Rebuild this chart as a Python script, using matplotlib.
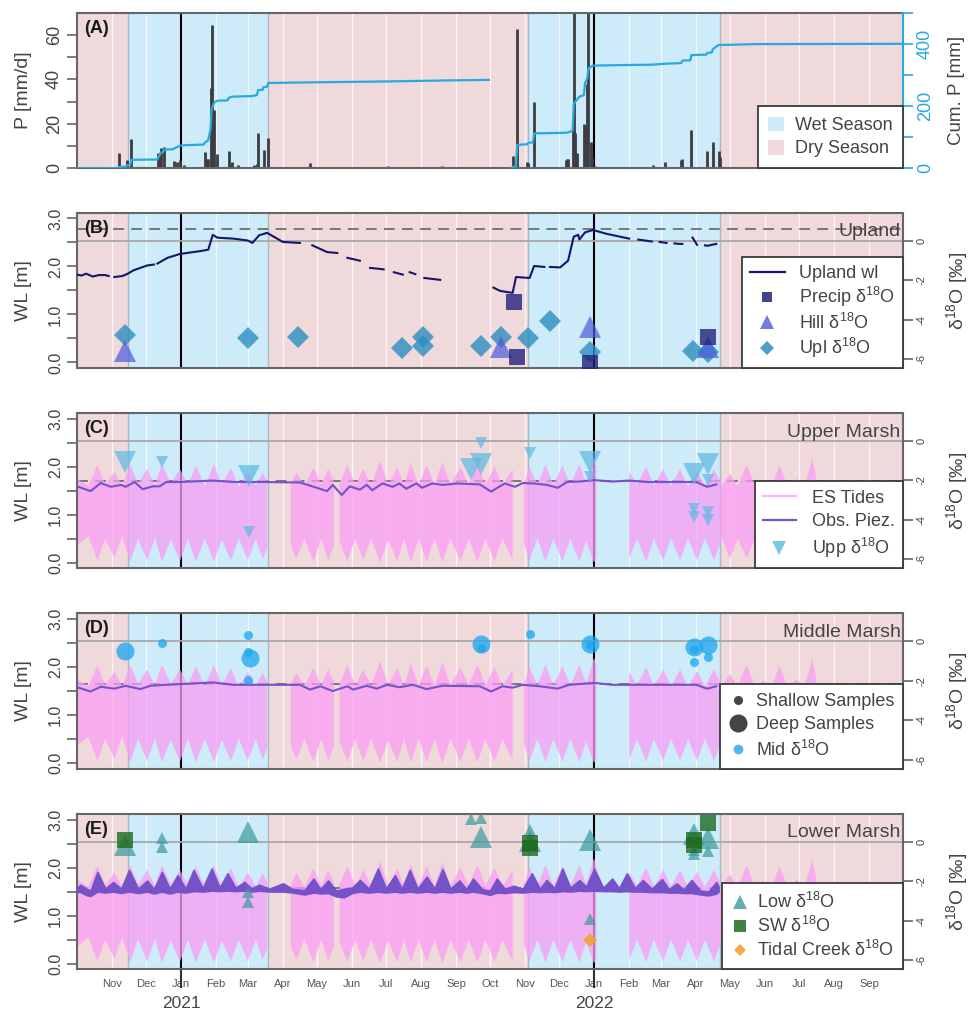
import numpy as np
import pandas as pd
import matplotlib
matplotlib.use("Agg")
import matplotlib.pyplot as plt
from matplotlib.lines import Line2D
from matplotlib.patches import Patch
import matplotlib.transforms as mtransforms

plt.rcParams['font.family'] = ['Liberation Sans', 'DejaVu Sans']
plt.rcParams['mathtext.fontset'] = 'custom'
plt.rcParams['mathtext.rm'] = 'Liberation Sans'
plt.rcParams['mathtext.it'] = 'Liberation Sans:italic'
plt.rcParams['mathtext.bf'] = 'Liberation Sans:bold'

D18 = 'δ$^{18}$O'

# ---------------- data ----------------
t_start, t_end = '2020-10-01', '2022-10-01'
wet_start = ['2020-11-15', '2021-11-04']
wet_end = ['2021-03-19', '2022-04-22']
year_ticks = ['2021-01-01', '2022-01-01']

# daily precipitation [mm/d]
rain_dates = ['2020-11-07', '2020-11-14', '2020-11-18', '2020-12-12', '2020-12-13', '2020-12-14',
              '2020-12-17', '2020-12-26', '2020-12-28', '2020-12-31', '2021-01-04', '2021-01-22',
              '2021-01-24', '2021-01-25', '2021-01-27', '2021-01-28', '2021-01-30', '2021-02-02',
              '2021-02-12', '2021-02-13', '2021-02-15', '2021-02-20', '2021-03-06', '2021-03-09',
              '2021-03-10', '2021-03-15', '2021-03-19', '2021-04-25', '2021-05-17', '2021-07-03',
              '2021-08-20', '2021-10-21', '2021-10-22', '2021-10-25', '2021-11-03', '2021-11-04',
              '2021-11-09', '2021-12-07', '2021-12-08', '2021-12-09', '2021-12-13', '2021-12-14',
              '2021-12-15', '2021-12-17', '2021-12-23', '2021-12-24', '2021-12-25', '2021-12-26',
              '2021-12-27', '2021-12-29', '2021-12-30', '2022-01-02', '2022-02-22', '2022-03-05',
              '2022-03-19', '2022-03-20', '2022-03-28', '2022-04-11', '2022-04-16', '2022-04-21',
              '2022-04-22', '2022-05-25']
rain_mm = [7.0, 3.7, 13.0, 7.0, 5.0, 9.3,
           9.7, 3.3, 2.8, 3.7, 1.5, 7.4,
           4.0, 4.0, 36.0, 64.5, 26.0, 6.3,
           7.8, 2.0, 3.0, 1.5, 1.5, 2.0,
           16.0, 8.3, 13.5, 2.5, 0.5, 0.8,
           0.8, 5.7, 1.2, 62.8, 3.0, 2.5,
           29.6, 3.7, 4.0, 4.0, 17.0, 75.0,
           16.0, 7.0, 20.0, 7.5, 19.0, 38.0,
           75.0, 12.0, 5.0, 1.0, 1.5, 3.0,
           3.7, 4.0, 17.4, 7.6, 12.0, 7.6,
           5.0, 0.5]

# cumulative precipitation per hydrological year [mm]
cum1_dates = ['2020-10-01', '2020-11-06', '2020-11-07', '2020-11-13', '2020-11-14', '2020-11-17',
              '2020-11-18', '2020-12-11', '2020-12-12', '2020-12-13', '2020-12-14', '2020-12-16',
              '2020-12-17', '2020-12-25', '2020-12-26', '2020-12-28', '2020-12-31', '2021-01-04',
              '2021-01-21', '2021-01-22', '2021-01-25', '2021-01-27', '2021-01-28', '2021-01-30',
              '2021-02-02', '2021-02-11', '2021-02-12', '2021-02-15', '2021-03-05', '2021-03-09',
              '2021-03-10', '2021-03-14', '2021-03-15', '2021-03-18', '2021-03-19', '2021-04-25',
              '2021-07-03', '2021-08-20', '2021-09-30']
cum1_mm = [0, 0, 4, 5, 9, 10,
           27, 28, 36, 42, 50, 51,
           60, 61, 64, 67, 72, 74,
           76, 82, 90, 125, 190, 210,
           217, 218, 226, 230, 232, 235,
           251, 252, 261, 262, 274, 276,
           279, 282, 284]
cum2_dates = ['2021-10-20', '2021-10-21', '2021-10-24', '2021-10-25', '2021-11-03', '2021-11-04',
              '2021-11-08', '2021-11-09', '2021-12-08', '2021-12-13', '2021-12-14', '2021-12-15',
              '2021-12-19', '2021-12-23', '2021-12-24', '2021-12-26', '2021-12-27', '2021-12-31',
              '2022-02-22', '2022-03-05', '2022-03-19', '2022-03-20', '2022-03-27', '2022-03-28',
              '2022-04-10', '2022-04-11', '2022-04-15', '2022-04-16', '2022-04-21', '2022-05-25',
              '2022-10-01']
cum2_mm = [0, 4, 6, 75, 77, 82,
           83, 112, 114, 120, 205, 212,
           230, 235, 273, 290, 321, 330,
           333, 336, 338, 346, 347, 364,
           365, 371, 372, 383, 396, 399,
           400]

# upland water level [m] (nan = logger gap)
nan = np.nan
upl_dates = ['2020-10-01', '2020-10-05', '2020-10-09', '2020-10-15', '2020-10-20', '2020-10-26',
             '2020-10-29', '2020-10-31', '2020-11-03', '2020-11-10', '2020-11-15', '2020-11-20',
             '2020-12-02', '2020-12-08', '2020-12-09', '2020-12-11', '2020-12-20', '2020-12-31',
             '2021-01-18', '2021-01-25', '2021-01-29', '2021-02-02', '2021-02-16', '2021-03-01',
             '2021-03-05', '2021-03-11', '2021-03-18', '2021-04-01', '2021-04-16', '2021-04-21',
             '2021-04-27', '2021-05-10', '2021-05-19', '2021-05-23', '2021-05-28', '2021-06-08',
             '2021-06-12', '2021-06-17', '2021-06-29', '2021-07-03', '2021-07-08', '2021-07-16',
             '2021-07-19', '2021-07-22', '2021-07-27', '2021-07-31', '2021-08-04', '2021-08-18',
             '2021-09-01', '2021-10-04', '2021-10-10', '2021-10-21', '2021-10-24', '2021-11-05',
             '2021-11-09', '2021-11-18', '2021-11-20', '2021-11-23', '2021-12-02', '2021-12-09',
             '2021-12-14', '2021-12-18', '2021-12-19', '2021-12-24', '2021-12-31', '2022-01-12',
             '2022-02-01', '2022-02-05', '2022-02-09', '2022-02-21', '2022-02-25', '2022-02-28',
             '2022-03-06', '2022-03-09', '2022-03-13', '2022-03-17', '2022-03-20', '2022-03-23',
             '2022-03-29', '2022-04-02', '2022-04-06', '2022-04-09', '2022-04-11', '2022-04-19']
upl_wl = [1.83, 1.81, 1.85, 1.79, 1.82, 1.82,
          1.80, nan, 1.78, 1.80, 1.85, 1.92,
          2.02, 2.04, nan, 2.06, 2.18, 2.26,
          2.32, 2.35, 2.66, 2.60, 2.58, 2.54,
          2.49, 2.65, 2.70, 2.51, 2.49, nan,
          2.44, 2.30, 2.28, nan, 2.18, 2.12,
          nan, 1.97, 1.94, nan, 1.88, 1.83,
          nan, 1.88, 1.84, nan, 1.76, 1.72,
          nan, 1.56, 1.49, 1.45, 1.78, 1.76,
          2.01, 1.99, nan, 1.99, 1.98, 2.12,
          2.62, 2.66, 2.56, 2.71, 2.76, 2.68,
          2.58, nan, 2.56, 2.52, nan, 2.51,
          2.49, nan, 2.48, 2.47, 2.47, nan,
          2.60, 2.45, nan, 2.44, 2.43, 2.47]

# estuary tide envelope [m] (daily high / low, nan = gap)
tide_dates = ['2020-10-01', '2020-10-11', '2020-10-19', '2020-10-26', '2020-11-03', '2020-11-10',
              '2020-11-17', '2020-11-24', '2020-12-02', '2020-12-09', '2020-12-15', '2020-12-23',
              '2020-12-31', '2021-01-07', '2021-01-14', '2021-01-22', '2021-01-30', '2021-02-06',
              '2021-02-14', '2021-02-21', '2021-03-01', '2021-03-08', '2021-03-14', '2021-03-18',
              '2021-03-19', '2021-04-08', '2021-04-13', '2021-04-20', '2021-04-28', '2021-05-05',
              '2021-05-11', '2021-05-16', '2021-05-18', '2021-05-21', '2021-05-28', '2021-06-04',
              '2021-06-11', '2021-06-18', '2021-06-26', '2021-07-03', '2021-07-11', '2021-07-17',
              '2021-07-23', '2021-07-30', '2021-08-06', '2021-08-13', '2021-08-20', '2021-08-27',
              '2021-09-05', '2021-09-12', '2021-09-20', '2021-09-27', '2021-10-05', '2021-10-12',
              '2021-10-21', '2021-10-25', '2021-10-31', '2021-11-05', '2021-11-12', '2021-11-19',
              '2021-11-26', '2021-12-04', '2021-12-11', '2021-12-19', '2021-12-25', '2022-01-01',
              '2022-01-03', '2022-01-15', '2022-02-01', '2022-02-08', '2022-02-16', '2022-02-23',
              '2022-03-03', '2022-03-10', '2022-03-18', '2022-03-25', '2022-04-02', '2022-04-09',
              '2022-04-17', '2022-04-24', '2022-05-01', '2022-05-08', '2022-05-16', '2022-05-23',
              '2022-05-31', '2022-06-07', '2022-06-14', '2022-06-21', '2022-06-29', '2022-07-06',
              '2022-07-13', '2022-07-16']
tide_hi = [1.75, 1.60, 2.03, 1.62, 1.90, 1.60,
           2.05, 1.65, 1.95, 1.62, 2.05, 1.65,
           1.95, 1.62, 2.02, 1.60, 2.05, 1.62,
           1.98, 1.58, 1.90, 1.60, 1.88, 1.70,
           nan, 1.65, 1.88, 1.60, 1.98, 1.62,
           1.95, 1.70, nan, 1.65, 2.03, 1.62,
           1.95, 1.62, 2.13, 1.62, 1.98, 1.62,
           2.07, 1.62, 2.03, 1.62, 2.10, 1.62,
           2.00, 1.62, 2.05, 1.62, 2.00, 1.60,
           1.95, nan, 1.65, 2.00, 1.62, 2.05,
           1.62, 2.02, 1.62, 2.05, 1.65, 2.20,
           2.00, nan, 1.90, 1.62, 2.00, 1.60,
           1.95, 1.60, 1.95, 1.58, 1.92, 1.60,
           1.95, 1.62, 1.85, 1.60, 2.05, 1.58,
           1.72, 1.60, 2.03, 1.58, 1.75, 1.60,
           2.18, 1.80]
tide_lo = [0.35, 0.55, 0.05, 0.50, 0.10, 0.55,
           0.02, 0.50, 0.05, 0.52, 0.02, 0.48,
           0.03, 0.50, 0.02, 0.50, 0.02, 0.48,
           0.05, 0.50, 0.05, 0.50, 0.08, 0.30,
           nan, 0.35, 0.08, 0.50, 0.03, 0.50,
           0.05, 0.35, nan, 0.45, 0.03, 0.50,
           0.05, 0.50, 0.00, 0.48, 0.03, 0.50,
           0.02, 0.50, 0.02, 0.50, 0.00, 0.50,
           0.03, 0.50, 0.02, 0.50, 0.03, 0.50,
           0.05, nan, 0.40, 0.05, 0.50, 0.02,
           0.50, 0.03, 0.50, 0.02, 0.45, 0.00,
           0.10, nan, 0.08, 0.50, 0.03, 0.50,
           0.05, 0.50, 0.05, 0.50, 0.05, 0.50,
           0.05, 0.50, 0.08, 0.50, 0.10, 0.50,
           0.05, 0.50, 0.08, 0.50, 0.02, 0.50,
           0.00, 0.30]

# piezometer water levels [m]
upp_pz_dates = ['2020-10-01', '2020-10-13', '2020-10-22', '2020-10-31', '2020-11-09', '2020-11-13',
                '2020-11-21', '2020-11-28', '2020-12-07', '2020-12-13', '2020-12-19', '2021-01-01',
                '2021-01-29', '2021-02-16', '2021-03-15', '2021-04-16', '2021-04-27', '2021-05-10',
                '2021-05-15', '2021-05-23', '2021-05-30', '2021-06-08', '2021-06-14', '2021-06-19',
                '2021-06-28', '2021-07-07', '2021-07-13', '2021-07-19', '2021-07-28', '2021-08-02',
                '2021-08-11', '2021-08-20', '2021-09-02', '2021-09-22', '2021-10-02', '2021-10-14',
                '2021-10-23', '2021-10-30', '2021-11-09', '2021-11-20', '2021-11-30', '2021-12-08',
                '2021-12-19', '2022-01-01', '2022-01-17', '2022-02-01', '2022-02-16', '2022-04-01',
                '2022-04-11', '2022-04-19']
upp_pz = [1.59, 1.49, 1.66, 1.58, 1.62, 1.58,
          1.68, 1.53, 1.59, 1.59, 1.68, 1.68,
          1.71, 1.68, 1.68, 1.67, 1.59, 1.49,
          1.62, 1.41, 1.59, 1.52, 1.62, 1.51,
          1.65, 1.58, 1.65, 1.54, 1.65, 1.56,
          1.65, 1.62, 1.65, 1.63, 1.48, 1.65,
          1.58, 1.66, 1.65, 1.62, 1.56, 1.68,
          1.69, 1.72, 1.69, 1.71, 1.68, 1.68,
          1.58, 1.63]
mid_pz_dates = ['2020-10-01', '2020-10-13', '2020-10-22', '2020-11-03', '2020-11-13', '2020-11-26',
                '2020-12-05', '2020-12-19', '2021-01-29', '2021-02-16', '2021-04-16', '2021-04-25',
                '2021-05-04', '2021-05-15', '2021-05-28', '2021-06-02', '2021-06-14', '2021-06-23',
                '2021-07-02', '2021-07-13', '2021-07-25', '2021-08-06', '2021-08-20', '2021-09-22',
                '2021-10-02', '2021-10-12', '2021-10-21', '2021-10-30', '2021-11-14', '2021-11-30',
                '2021-12-10', '2022-01-01', '2022-01-17', '2022-04-01', '2022-04-11', '2022-04-19']
mid_pz = [1.58, 1.49, 1.59, 1.55, 1.61, 1.54,
          1.61, 1.63, 1.68, 1.63, 1.63, 1.53,
          1.60, 1.50, 1.60, 1.53, 1.61, 1.55,
          1.63, 1.58, 1.63, 1.54, 1.61, 1.60,
          1.49, 1.60, 1.57, 1.63, 1.60, 1.55,
          1.63, 1.67, 1.63, 1.63, 1.55, 1.60]
# lower marsh piezometer: daily high / low [m]
low_pz_dates = ['2020-10-01', '2020-10-04', '2020-10-10', '2020-10-13', '2020-10-19', '2020-10-26',
                '2020-11-02', '2020-11-09', '2020-11-16', '2020-11-24', '2020-12-02', '2020-12-08',
                '2020-12-15', '2020-12-22', '2020-12-29', '2021-01-05', '2021-01-12', '2021-01-20',
                '2021-01-28', '2021-02-04', '2021-02-11', '2021-02-18', '2021-02-26', '2021-03-04',
                '2021-03-11', '2021-03-20', '2021-04-01', '2021-04-10', '2021-04-20', '2021-04-28',
                '2021-05-04', '2021-05-11', '2021-05-18', '2021-05-25', '2021-06-01', '2021-06-08',
                '2021-06-16', '2021-06-24', '2021-07-01', '2021-07-09', '2021-07-15', '2021-07-22',
                '2021-07-29', '2021-08-06', '2021-08-13', '2021-08-20', '2021-08-27', '2021-09-04',
                '2021-09-10', '2021-09-16', '2021-09-24', '2021-10-01', '2021-10-07', '2021-10-14',
                '2021-10-22', '2021-10-30', '2021-11-07', '2021-11-14', '2021-11-20', '2021-11-27',
                '2021-12-04', '2021-12-11', '2021-12-19', '2021-12-25', '2022-01-01', '2022-01-09',
                '2022-01-17', '2022-01-23', '2022-01-30', '2022-02-06', '2022-02-13', '2022-02-21',
                '2022-03-02', '2022-03-08', '2022-03-15', '2022-03-21', '2022-03-28', '2022-04-05',
                '2022-04-12', '2022-04-19', '2022-04-21']
low_pz_hi = [1.58, 1.64, 1.55, 1.52, 1.91, 1.56,
             1.70, 1.56, 1.95, 1.56, 1.73, 1.55,
             1.91, 1.56, 1.84, 1.56, 1.95, 1.57,
             1.98, 1.58, 1.88, 1.58, 1.70, 1.57,
             1.64, 1.56, 1.67, 1.55, 1.53, 1.77,
             1.55, 1.73, 1.52, 1.56, 1.58, 1.74,
             1.56, 1.98, 1.56, 1.84, 1.56, 1.95,
             1.56, 1.81, 1.56, 1.97, 1.56, 1.73,
             1.55, 1.77, 1.55, 1.52, 1.77, 1.56,
             1.62, 1.56, 1.88, 1.56, 1.74, 1.57,
             1.98, 1.58, 1.74, 1.60, 1.98, 1.58,
             1.77, 1.57, 1.88, 1.57, 1.74, 1.56,
             1.76, 1.55, 1.67, 1.54, 1.74, 1.52,
             1.50, 1.70, 1.60]
low_pz_lo = [1.50, 1.49, 1.42, 1.41, 1.50, 1.48,
             1.50, 1.47, 1.50, 1.47, 1.50, 1.46,
             1.50, 1.46, 1.50, 1.48, 1.51, 1.50,
             1.52, 1.51, 1.52, 1.51, 1.52, 1.50,
             1.52, 1.50, 1.50, 1.48, 1.44, 1.48,
             1.46, 1.47, 1.40, 1.38, 1.47, 1.50,
             1.48, 1.50, 1.48, 1.50, 1.48, 1.50,
             1.48, 1.50, 1.48, 1.50, 1.48, 1.50,
             1.48, 1.50, 1.47, 1.43, 1.48, 1.47,
             1.49, 1.48, 1.50, 1.49, 1.50, 1.49,
             1.51, 1.50, 1.52, 1.51, 1.52, 1.51,
             1.51, 1.50, 1.51, 1.50, 1.50, 1.49,
             1.49, 1.48, 1.48, 1.47, 1.47, 1.44,
             1.42, 1.46, 1.50]

# ground surface reference [m]
ref_level = {'B': 2.78, 'C': 1.70, 'D': 1.64, 'E': 1.57}

# isotope samples [permil]
precip_iso_dates = ['2021-10-22', '2021-10-25', '2021-12-28', '2022-04-12']
precip_iso = [-3.09, -5.88, -6.22, -4.87]
hill_iso_dates = ['2020-11-12', '2021-10-11', '2021-12-28', '2022-04-12']
hill_iso = [-5.61, -5.37, -4.39, -5.37]
upl_iso_dates = ['2020-11-12', '2021-03-01', '2021-04-14', '2021-07-15', '2021-08-03', '2021-08-03',
                 '2021-09-23', '2021-10-11', '2021-11-04', '2021-11-23', '2021-12-28', '2022-03-29',
                 '2022-04-12']
upl_iso = [-4.78, -4.95, -4.90, -5.46, -4.90, -5.34,
           -5.32, -4.87, -4.95, -4.06, -5.63, -5.58,
           -5.63]

upp_iso_dates = ['2020-11-12', '2020-12-15', '2021-03-02', '2021-03-02', '2021-09-14', '2021-09-23',
                 '2021-09-23', '2021-11-05', '2021-12-28', '2021-12-28', '2022-03-30', '2022-03-30',
                 '2022-03-30', '2022-04-12', '2022-04-12', '2022-04-12', '2022-04-12']
upp_iso = [-1.05, -1.05, -1.77, -4.61, -1.40, -1.18,
           -0.10, -0.61, -1.05, -1.83, -1.70, -3.43,
           -3.85, -1.18, -1.99, -3.60, -4.02]
upp_deep = [1, 0, 1, 0, 1, 1, 0, 0, 1, 0, 1, 0, 0, 1, 0, 0, 0]

mid_iso_dates = ['2020-11-12', '2020-12-15', '2021-03-01', '2021-03-01', '2021-03-01', '2021-03-03',
                 '2021-09-23', '2021-09-23', '2021-11-05', '2021-12-28', '2021-12-28', '2022-03-30',
                 '2022-03-30', '2022-03-30', '2022-04-12', '2022-04-12']
mid_iso = [-0.49, -0.07, 0.34, -0.53, -1.96, -0.83,
           -0.14, -0.36, 0.37, -0.14, -0.20, -0.27,
           -0.41, -1.06, -0.19, -0.78]
mid_deep = [1, 0, 0, 0, 0, 1, 1, 0, 0, 1, 0, 1, 0, 0, 1, 0]

low_iso_dates = ['2020-11-12', '2020-12-15', '2020-12-15', '2021-03-01', '2021-03-01', '2021-03-01',
                 '2021-09-14', '2021-09-23', '2021-09-23', '2021-11-05', '2021-11-05', '2021-12-28',
                 '2021-12-28', '2022-03-30', '2022-03-30', '2022-03-30', '2022-04-12', '2022-04-12']
low_iso = [-0.16, 0.18, -0.25, 0.50, -2.53, -3.04,
           1.14, 1.19, 0.26, 0.60, 0.05, 0.09,
           -3.89, 0.40, -0.42, -0.60, 0.18, -0.45]
low_deep = [1, 0, 0, 1, 0, 0, 0, 0, 1, 0, 1, 1, 0, 1, 0, 0, 1, 0]

sw_iso_dates = ['2020-11-12', '2021-11-05', '2021-11-05', '2022-03-30', '2022-03-30', '2022-04-12']
sw_iso = [0.09, -0.08, -0.33, 0.09, -0.16, 0.94]
creek_iso_dates = ['2021-12-28']
creek_iso = [-5.0]

# ---------------- style ----------------
dry_col = '#F0D9DB'
wet_col = '#CDEBF9'
edge_col = '#A9B8C4'
frame_col = '#666666'
text_col = '#444444'
cum_col = '#29A9E1'
navy = '#15156E'
tide_col = '#F99DF4'
piez_col = '#7652C9'
c_precip = '#22227A'
c_hill = '#4B5CDB'
c_upl = '#2C8EC0'
c_upp = '#5DB9E2'
c_mid = '#1CA6EE'
c_low = '#3C9B9B'
c_sw = '#1F6B1F'
c_creek = '#F2A334'

wl_lim = (-0.12, 3.12)
iso_lim = (-6.46, 1.42)

W_PX, H_PX = 979, 1011
fig = plt.figure(figsize=(W_PX / 100, H_PX / 100), dpi=100)
left, width, height = 77 / W_PX, 826 / W_PX, 155.5 / H_PX
bottoms = [168.2, 368.2, 568.4, 768.8, 969.3]
axes = [fig.add_axes([left, 1 - b / H_PX, width, height]) for b in bottoms]

t0, t1 = pd.Timestamp(t_start), pd.Timestamp(t_end)
month_starts = pd.date_range(t0, t1, freq='MS')
dt = pd.to_datetime


def ax_center(ax):
    return bottoms[axes.index(ax)] - 155.5 / 2


def base_panel(ax, ylim):
    ax.set_xlim(t0, t1)
    ax.set_ylim(*ylim)
    ax.axvspan(t0, t1, color=dry_col, lw=0, zorder=0)
    for s, e in zip(wet_start, wet_end):
        ax.axvspan(dt(s), dt(e), color=wet_col, lw=0, zorder=0.1)
    for m in month_starts:
        ax.axvline(m, color='white', lw=1.0, alpha=0.75, zorder=0.2)
    for s, e in zip(wet_start, wet_end):
        ax.axvline(dt(s), color=edge_col, lw=1.0, zorder=0.3)
        ax.axvline(dt(e), color=edge_col, lw=1.0, zorder=0.3)
    for y in year_ticks:
        ax.axvline(dt(y), color='black', lw=1.5, zorder=0.4)
    for sp in ax.spines.values():
        sp.set_color(frame_col)
        sp.set_linewidth(1.5)
    ax.tick_params(axis='x', length=0, labelbottom=False)
    ax.tick_params(axis='y', which='both', direction='out', length=7, width=1.2,
                   color=frame_col, labelcolor=text_col, labelsize=11.5, pad=3)


def iso_axis(ax):
    axr = ax.twinx()
    axr.set_ylim(*iso_lim)
    axr.set_yticks([-6, -4, -2, 0], labels=['-6', '-4', '-2', '0'], rotation=90, va='center')
    axr.tick_params(axis='y', direction='out', length=7, width=1.2, color=frame_col,
                    labelcolor=text_col, labelsize=8, pad=3)
    for sp in axr.spines.values():
        sp.set_visible(False)
    fig.text(957 / W_PX, 1 - ax_center(ax) / H_PX, D18 + ' [‰]', rotation=90,
             ha='center', va='center', fontsize=14, color=text_col)
    return axr


def wl_axis(ax):
    ax.set_yticks([0, 1, 2, 3], labels=['0.0', '1.0', '2.0', '3.0'], rotation=90, va='center')
    ax.set_yticks([0.5, 1.5, 2.5], minor=True)
    fig.text(24 / W_PX, 1 - ax_center(ax) / H_PX, 'WL [m]', rotation=90,
             ha='center', va='center', fontsize=14, color=text_col)
    # zero line of the isotope axis, expressed in water-level units
    z = wl_lim[0] + (0 - iso_lim[0]) / (iso_lim[1] - iso_lim[0]) * (wl_lim[1] - wl_lim[0])
    ax.axhline(z, color='#A8A8A8', lw=1.3, zorder=0.5)


def panel_tag(ax, tag, title=None):
    ax.text(0.009, 0.90, tag, transform=ax.transAxes, fontsize=13, fontweight='bold',
            ha='left', va='center', color='#1A1A1A', zorder=10)
    if title:
        ax.text(0.997, 0.877, title, transform=ax.transAxes, fontsize=14, color=text_col,
                ha='right', va='center', zorder=10)


def style_legend(leg):
    fr = leg.get_frame()
    fr.set_edgecolor('#3A3A3A')
    fr.set_linewidth(1.3)
    fr.set_alpha(1)
    for t in leg.get_texts():
        t.set_color(text_col)


def plot_iso(axr, dates, vals, marker, color, deep=None, big=16, small=8.5, alpha=0.75):
    dates = dt(dates)
    vals = np.asarray(vals)
    if deep is None:
        axr.plot(dates, vals, ls='none', marker=marker, ms=big, color=color, alpha=alpha,
                 mew=0, zorder=5)
        return
    deep = np.asarray(deep, bool)
    axr.plot(dates[deep], vals[deep], ls='none', marker=marker, ms=big, color=color,
             alpha=alpha, mew=0, zorder=5)
    axr.plot(dates[~deep], vals[~deep], ls='none', marker=marker, ms=small, color=color,
             alpha=alpha, mew=0, zorder=5)


def draw_tides(ax):
    ax.fill_between(dt(tide_dates), tide_lo, tide_hi, color=tide_col, alpha=0.75, lw=0, zorder=1)


def corner_legend(axr, handles, labels, **kw):
    leg = axr.legend(handles, labels, loc='lower right', bbox_to_anchor=(1, 0),
                     borderaxespad=0, fancybox=False, fontsize=13, **kw)
    style_legend(leg)
    return leg


# ---------------- (A) precipitation ----------------
axA = axes[0]
base_panel(axA, (0, 70))
axA.vlines(dt(rain_dates), 0, rain_mm, color='#3D3D3D', lw=2.0, zorder=2)
axA.set_yticks([0, 20, 40, 60], labels=['0', '20', '40', '60'], rotation=90, va='center')
axA.set_yticks([10, 30, 50], minor=True)
axA.tick_params(axis='y', labelsize=13)
axA.spines['right'].set_visible(False)
fig.text(24 / W_PX, 1 - 90.5 / H_PX, 'P [mm/d]', rotation=90, ha='center', va='center',
         fontsize=14, color=text_col)
axA2 = axA.twinx()
axA2.set_ylim(0, 500)
axA2.plot(dt(cum1_dates), cum1_mm, color=cum_col, lw=1.6, zorder=3)
axA2.plot(dt(cum2_dates), cum2_mm, color=cum_col, lw=1.6, zorder=3)
axA2.set_yticks([0, 200, 400], labels=['0', '200', '400'], rotation=90, va='center')
axA2.set_yticks([100, 300, 500], minor=True)
axA2.tick_params(axis='y', which='both', direction='out', length=7, width=1.2, color=cum_col,
                 labelcolor=cum_col, labelsize=13, pad=3)
for k, sp in axA2.spines.items():
    sp.set_visible(k == 'right')
axA2.spines['right'].set_color(cum_col)
axA2.spines['right'].set_linewidth(1.5)
fig.text(957 / W_PX, 1 - 90.5 / H_PX, 'Cum. P [mm]', rotation=90, ha='center', va='center',
         fontsize=13.5, color=text_col)
panel_tag(axA, '(A)')
corner_legend(axA2, [Patch(facecolor=wet_col, edgecolor='none'),
                     Patch(facecolor=dry_col, edgecolor='none')],
              ['Wet Season', 'Dry Season'], handlelength=0.85, handleheight=0.9,
              handletextpad=0.6, borderpad=0.6, labelspacing=0.3)

# ---------------- (B) upland ----------------
axB = axes[1]
base_panel(axB, wl_lim)
wl_axis(axB)
axB.axhline(ref_level['B'], color='#6E6E6E', lw=1.3, ls=(0, (6, 4)), zorder=0.6)
axB.plot(dt(upl_dates), upl_wl, color=navy, lw=1.5, zorder=3)
axBr = iso_axis(axB)
plot_iso(axBr, upl_iso_dates, upl_iso, 'D', c_upl, big=11.5, alpha=0.8)
plot_iso(axBr, hill_iso_dates, hill_iso, '^', c_hill, big=16.5, alpha=0.7)
plot_iso(axBr, precip_iso_dates, precip_iso, 's', c_precip, big=11.5, alpha=0.8)
panel_tag(axBr, '(B)', 'Upland')
corner_legend(axBr, [Line2D([], [], color=navy, lw=1.6),
                     Line2D([], [], ls='none', marker='s', ms=7, color=c_precip, alpha=0.85, mew=0),
                     Line2D([], [], ls='none', marker='^', ms=10, color=c_hill, alpha=0.8, mew=0),
                     Line2D([], [], ls='none', marker='D', ms=7, color=c_upl, alpha=0.85, mew=0)],
              ['Upland wl', 'Precip ' + D18, 'Hill ' + D18, 'Upl ' + D18],
              handlelength=1.9, handletextpad=0.8, borderpad=0.45, labelspacing=0.18)

# ---------------- (C) upper marsh ----------------
axC = axes[2]
base_panel(axC, wl_lim)
wl_axis(axC)
axC.axhline(ref_level['C'], color='#6E6E6E', lw=1.3, ls=(0, (6, 4)), zorder=0.6)
draw_tides(axC)
axC.plot(dt(upp_pz_dates), upp_pz, color=piez_col, lw=1.5, zorder=3)
axCr = iso_axis(axC)
plot_iso(axCr, upp_iso_dates, upp_iso, 'v', c_upp, deep=upp_deep, big=16.5, small=8.5, alpha=0.7)
panel_tag(axCr, '(C)', 'Upper Marsh')
corner_legend(axCr, [Line2D([], [], color='#FFB3FF', lw=1.6),
                     Line2D([], [], color=piez_col, lw=1.6),
                     Line2D([], [], ls='none', marker='v', ms=10, color=c_upp, alpha=0.8, mew=0)],
              ['ES Tides', 'Obs. Piez.', 'Upp ' + D18],
              handlelength=1.8, handletextpad=0.9, borderpad=0.45, labelspacing=0.35)

# ---------------- (D) middle marsh ----------------
axD = axes[3]
base_panel(axD, wl_lim)
wl_axis(axD)
axD.axhline(ref_level['D'], color='#6E6E6E', lw=1.3, ls=(0, (6, 4)), zorder=0.6)
draw_tides(axD)
axD.plot(dt(mid_pz_dates), mid_pz, color=piez_col, lw=1.5, zorder=3)
axDr = iso_axis(axD)
plot_iso(axDr, mid_iso_dates, mid_iso, 'o', c_mid, deep=mid_deep, big=13, small=6.5, alpha=0.75)
panel_tag(axDr, '(D)', 'Middle Marsh')
corner_legend(axDr, [Line2D([], [], ls='none', marker='o', ms=6.5, color='#444444', mew=0),
                     Line2D([], [], ls='none', marker='o', ms=13, color='#444444', mew=0),
                     Line2D([], [], ls='none', marker='o', ms=7, color=c_mid, alpha=0.8, mew=0)],
              ['Shallow Samples', 'Deep Samples', 'Mid ' + D18],
              handlelength=1.0, handletextpad=0.45, borderpad=0.5, labelspacing=0.35)

# ---------------- (E) lower marsh ----------------
axE = axes[4]
base_panel(axE, wl_lim)
wl_axis(axE)
axE.axhline(ref_level['E'], color='#6E6E6E', lw=1.3, ls=(0, (6, 4)), zorder=0.6)
draw_tides(axE)
axE.fill_between(dt(low_pz_dates), low_pz_lo, low_pz_hi, color=piez_col, lw=1.2,
                 edgecolor=piez_col, zorder=3)
axEr = iso_axis(axE)
plot_iso(axEr, low_iso_dates, low_iso, '^', c_low, deep=low_deep, big=16.5, small=8.5, alpha=0.7)
plot_iso(axEr, sw_iso_dates, sw_iso, 's', c_sw, big=11, alpha=0.8)
plot_iso(axEr, creek_iso_dates, creek_iso, 'D', c_creek, big=7.5, alpha=0.9)
panel_tag(axEr, '(E)', 'Lower Marsh')
corner_legend(axEr, [Line2D([], [], ls='none', marker='^', ms=10, color=c_low, alpha=0.8, mew=0),
                     Line2D([], [], ls='none', marker='s', ms=8, color=c_sw, alpha=0.85, mew=0),
                     Line2D([], [], ls='none', marker='D', ms=6, color=c_creek, alpha=0.9, mew=0)],
              ['Low ' + D18, 'SW ' + D18, 'Tidal Creek ' + D18],
              handlelength=1.0, handletextpad=0.45, borderpad=0.5, labelspacing=0.22)

# month labels and year ticks along the bottom panel
inner = month_starts[1:-1]
axE.set_xticks(inner, labels=[m.strftime('%b') for m in inner])
axE.tick_params(axis='x', length=0, labelbottom=True, labelsize=8, labelcolor='#555555', pad=7)
trans = mtransforms.blended_transform_factory(axE.transData, axE.transAxes)
for y in year_ticks:
    axE.add_line(Line2D([dt(y), dt(y)], [0, -0.115], transform=trans, color='#333333',
                        lw=1.5, clip_on=False))
    axE.text(dt(y), -0.217, y[:4], transform=trans, ha='center', va='center',
             fontsize=12.5, color=text_col)

fig.savefig('out.png', dpi=100)
